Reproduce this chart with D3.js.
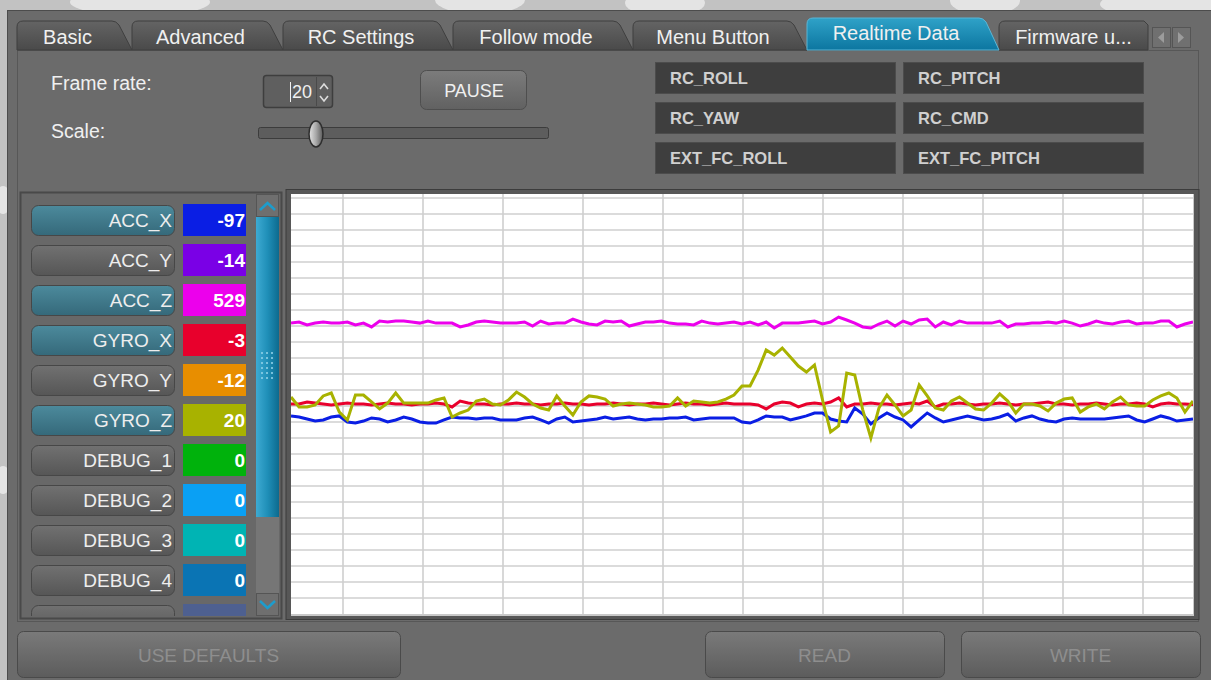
<!DOCTYPE html>
<html>
<head>
<meta charset="utf-8">
<script src="https://cdnjs.cloudflare.com/ajax/libs/d3/7.8.5/d3.min.js"></script>
<style>
  body { margin: 0; background: #c4c4c4; overflow: hidden; }
  svg { display: block; font-family: "Liberation Sans", Arial, sans-serif; }
</style>
</head>
<body>
<svg id="ui" width="1211" height="680"></svg>
<script>
// ---- data ----
var tabNames = ["Basic", "Advanced", "RC Settings", "Follow mode", "Menu Button", "Realtime Data", "Firmware u..."];
var activeTab = 5;

var rcNames = ["RC_ROLL", "RC_PITCH", "RC_YAW", "RC_CMD", "EXT_FC_ROLL", "EXT_FC_PITCH"];

var channelNames  = ["ACC_X", "ACC_Y", "ACC_Z", "GYRO_X", "GYRO_Y", "GYRO_Z", "DEBUG_1", "DEBUG_2", "DEBUG_3", "DEBUG_4", ""];
var channelValues = ["-97", "-14", "529", "-3", "-12", "20", "0", "0", "0", "0", ""];
var channelColors = ["#0a1ee4", "#7a00e6", "#ec00ec", "#e8002c", "#e88e00", "#a8b200", "#00b20c", "#0aa0f4", "#00b4b4", "#0a74b4", "#4e6090"];
var channelOn     = [true, false, true, true, false, true, false, false, false, false, false];

var frameRate = "20";
var scalePos = 0.2;   // slider knob position 0..1
var bottomButtons = ["USE DEFAULTS", "READ", "WRITE"];

// samples (one every frame), oldest on the left
var accX = [
  -77, -84, -97, -110, -103, -84, -77, -116, -123, -110,
  -90, -97, -116, -103, -84, -97, -116, -123, -123, -103,
  -84, -90, -90, -97, -90, -90, -103, -103, -103, -90,
  -84, -103, -123, -97, -84, -116, -110, -103, -97, -84,
  -97, -90, -84, -97, -103, -97, -97, -90, -90, -84,
  -103, -97, -90, -90, -90, -90, -116, -123, -103, -77,
  -84, -84, -103, -90, -77, -58, -58, -97, -110, -116,
  -26, -65, -129, -90, -58, -84, -103, -148, -103, -58,
  -90, -116, -103, -90, -77, -90, -103, -97, -84, -65,
  -110, -90, -77, -97, -110, -116, -97, -90, -97, -97,
  -97, -97, -90, -84, -77, -103, -116, -97, -77, -90,
  -110, -103, -97
];
var accZ = [
  522, 529, 510, 522, 529, 522, 522, 529, 510, 522,
  497, 535, 529, 535, 535, 529, 522, 535, 522, 522,
  522, 497, 510, 529, 535, 529, 522, 522, 522, 529,
  503, 535, 516, 522, 522, 548, 529, 516, 510, 535,
  529, 535, 503, 516, 529, 529, 535, 522, 516, 516,
  510, 535, 522, 516, 522, 529, 516, 529, 510, 529,
  490, 522, 522, 522, 529, 535, 516, 529, 561, 542,
  522, 497, 490, 516, 535, 503, 535, 516, 542, 548,
  497, 529, 510, 535, 522, 522, 522, 522, 535, 497,
  516, 516, 522, 522, 529, 522, 535, 522, 503, 516,
  535, 522, 516, 529, 535, 516, 522, 522, 535, 535,
  497, 516, 529
];
var gyroX = [
  0, 0, 13, 6, 0, -6, 0, 6, 0, 0,
  -6, 0, 6, 0, 0, -6, 0, 0, 6, 0,
  -19, 19, 6, 0, 0, -6, 0, 0, 6, 0,
  0, -6, 0, 0, 6, 0, 0, -6, 0, 0,
  6, 0, -6, 0, 0, 6, 0, -6, 0, 6,
  0, 0, -6, 0, 6, 0, 0, 0, -6, -32,
  0, 13, 6, -19, 0, 6, 0, 13, 39, -19,
  0, 0, 6, 0, 0, -6, 0, 6, 0, 19,
  -19, 0, 0, 6, 0, -6, 0, 0, 6, 0,
  -6, 0, 0, 6, 13, 0, 0, -6, 0, 0,
  6, 0, -6, 0, 0, 6, 0, -19, 0, 6,
  0, 0, -3
];
var gyroZ = [
  45, -19, -19, -6, 52, 71, -52, -103, 58, 58,
  13, -32, 6, 71, 6, 6, 6, 6, 26, 39,
  -84, -58, -39, 19, 32, 0, -6, 26, 77, 45,
  0, -26, -39, 52, -13, -71, 13, 52, 45, 32,
  -13, 0, 6, 0, -6, -19, -19, -13, 39, -13,
  19, 13, 6, 13, 32, 58, 116, 116, 219, 348,
  316, 361, 303, 245, 206, 252, 26, -181, -142, 200,
  187, -39, -219, -26, 58, -6, -77, -39, 123, 52,
  -26, -39, 19, 45, 6, -32, -39, 6, 65, 19,
  -58, 0, 0, -13, -45, 6, 32, 39, -52, -19,
  0, -32, 13, 45, -6, -13, -13, 26, 52, 71,
  39, -52, 20
];
// plotted channels, drawn in channel order
var plotted = [
  { values: accX, color: channelColors[0] },
  { values: accZ, color: channelColors[2] },
  { values: gyroX, color: channelColors[3] },
  { values: gyroZ, color: channelColors[5] }
];

// ---- drawing ----
var svg = d3.select("#ui");
var defs = svg.append("defs");

function grad(id, stops, horizontal) {
  var g = defs.append("linearGradient").attr("id", id)
    .attr("x1", 0).attr("y1", 0)
    .attr("x2", horizontal ? 1 : 0).attr("y2", horizontal ? 0 : 1);
  stops.forEach(function (s) { g.append("stop").attr("offset", s[0]).attr("stop-color", s[1]); });
}
grad("tabGrad", [[0, "#646464"], [1, "#4a4a4a"]]);
grad("tabActive", [[0, "#2fa2c8"], [1, "#0c76a0"]]);
grad("btnGrad", [[0, "#7c7c7c"], [1, "#616161"]]);
grad("chanOff", [[0, "#717171"], [1, "#565656"]]);
grad("chanOn", [[0, "#4c8a9c"], [1, "#35697a"]]);
grad("thumb", [[0, "#3eaad2"], [0.5, "#1f8fb8"], [1, "#0c6a8e"]], true);
grad("knob", [[0, "#e4e4e4"], [0.5, "#a8a8a8"], [1, "#5a5a5a"]], true);
grad("bottomBtn", [[0, "#7a7a7a"], [1, "#5c5c5c"]]);

// backdrop behind the window
svg.append("rect").attr("width", 1211).attr("height", 680).attr("fill", "#c2c2c2");
var blobs = [[140, 2, 70], [480, 0, 45], [665, 3, 40], [985, 1, 35], [1160, 4, 60], [3, 200, 8], [3, 480, 8]];
svg.selectAll(".blob").data(blobs).enter().append("ellipse")
  .attr("cx", function (d) { return d[0]; }).attr("cy", function (d) { return d[1]; })
  .attr("rx", function (d) { return d[2]; }).attr("ry", 14)
  .attr("fill", "#ececec").attr("opacity", 0.8);

// window + pane
svg.append("rect").attr("x", 7.5).attr("y", 10.5).attr("width", 1215).attr("height", 680)
  .attr("fill", "#6b6b6b").attr("stroke", "#4c4c4c");
svg.append("rect").attr("x", 17.5).attr("y", 50.5).attr("width", 1181).attr("height", 571)
  .attr("fill", "#6b6b6b").attr("stroke", "#575757");

// tabs
var tabEdges = [17, 132, 283, 453, 633, 807, 999, 1148];
var tabs = tabNames.map(function (name, i) {
  return { name: name, i: i, left: tabEdges[i], right: tabEdges[i + 1] };
});
function tabPath(t) {
  var top = t.i === activeTab ? 18 : 21;
  var L = t.left, R = t.right;
  if (t.i === tabNames.length - 1) {
    return "M" + L + ",50 L" + L + "," + (top + 6) + " Q" + L + "," + top + " " + (L + 6) + "," + top +
      " L" + (R - 4) + "," + top + " L" + R + "," + (top + 4) + " L" + R + ",50 Z";
  }
  return "M" + L + ",50 L" + L + "," + (top + 6) + " Q" + L + "," + top + " " + (L + 6) + "," + top +
    " L" + (R - 20) + "," + top + " Q" + (R - 16) + "," + top + " " + (R - 13) + "," + (top + 4) +
    " L" + R + ",50 Z";
}
var order = tabs.filter(function (t) { return t.i !== activeTab; }).concat([tabs[activeTab]]);
var tg = svg.append("g");
tg.selectAll("path").data(order).enter().append("path")
  .attr("d", tabPath)
  .attr("fill", function (t) { return t.i === activeTab ? "url(#tabActive)" : "url(#tabGrad)"; })
  .attr("stroke", function (t) { return t.i === activeTab ? "#5bb6d6" : "#3f3f3f"; })
  .attr("stroke-width", 1);
tg.selectAll("text").data(order).enter().append("text")
  .attr("x", function (t) { return t.i === tabNames.length - 1 ? (t.left + t.right) / 2 : (t.left + t.right - 14) / 2; })
  .attr("y", function (t) { return t.i === activeTab ? 40 : 44; })
  .attr("text-anchor", "middle").attr("font-size", 20)
  .attr("fill", "#f0f0f0")
  .text(function (t) { return t.name; });

// tab scroll arrows
var arrows = [{ x: 1152, dir: -1 }, { x: 1172, dir: 1 }];
var ag = svg.append("g").selectAll("g").data(arrows).enter().append("g");
ag.append("rect").attr("x", function (d) { return d.x + 0.5; }).attr("y", 27.5)
  .attr("width", 18).attr("height", 20).attr("fill", "#707070").attr("stroke", "#555");
ag.append("path").attr("d", function (d) {
  var cx = d.x + 9;
  return d.dir < 0 ? "M" + (cx + 3) + ",32 L" + (cx - 3) + ",37.5 L" + (cx + 3) + ",43 Z"
                   : "M" + (cx - 3) + ",32 L" + (cx + 3) + ",37.5 L" + (cx - 3) + ",43 Z";
}).attr("fill", "#9c9c9c");

// controls: frame rate, pause, scale
svg.append("text").attr("x", 51).attr("y", 90).attr("font-size", 19.5).attr("fill", "#f0f0f0").text("Frame rate:");
svg.append("text").attr("x", 51).attr("y", 138).attr("font-size", 19.5).attr("fill", "#f0f0f0").text("Scale:");

svg.append("rect").attr("x", 263.5).attr("y", 75.5).attr("width", 69).attr("height", 32).attr("rx", 3)
  .attr("fill", "#5f5f5f").attr("stroke", "#3e3e3e").attr("stroke-width", 1.5);
svg.append("line").attr("x1", 316.5).attr("x2", 316.5).attr("y1", 77).attr("y2", 106).attr("stroke", "#4a4a4a");
svg.append("text").attr("x", 312).attr("y", 98).attr("text-anchor", "end").attr("font-size", 18)
  .attr("fill", "#f0f0f0").text(frameRate);
svg.append("line").attr("x1", 290.5).attr("x2", 290.5).attr("y1", 82).attr("y2", 102).attr("stroke", "#f0f0f0");
svg.append("path").attr("d", "M320,89 L324,84 L328,89 M320,96 L324,101 L328,96")
  .attr("fill", "none").attr("stroke", "#dcdcdc").attr("stroke-width", 1.6);

svg.append("rect").attr("x", 420.5).attr("y", 70.5).attr("width", 106).attr("height", 39).attr("rx", 6)
  .attr("fill", "url(#btnGrad)").attr("stroke", "#4e4e4e");
svg.append("text").attr("x", 474).attr("y", 97).attr("text-anchor", "middle").attr("font-size", 18)
  .attr("fill", "#f0f0f0").text("PAUSE");

var slider = d3.scaleLinear().domain([0, 1]).range([258, 548]);
svg.append("rect").attr("x", 258.5).attr("y", 127.5).attr("width", 290).attr("height", 11).attr("rx", 2)
  .attr("fill", "#5d5d5d").attr("stroke", "#3c3c3c");
svg.append("ellipse").attr("cx", slider(scalePos)).attr("cy", 134).attr("rx", 7).attr("ry", 13)
  .attr("fill", "url(#knob)").attr("stroke", "#2e2e2e").attr("stroke-width", 1.5);

// rc boxes
var rcG = svg.append("g").selectAll("g").data(rcNames).enter().append("g")
  .attr("transform", function (d, i) { return "translate(" + (655 + (i % 2) * 248) + "," + (62 + Math.floor(i / 2) * 40) + ")"; });
rcG.append("rect").attr("x", 0.5).attr("y", 0.5).attr("width", 240).attr("height", 31)
  .attr("fill", "#3e3e3e").attr("stroke", "#4c4c4c");
rcG.append("text").attr("x", 15).attr("y", 22).attr("font-size", 16.5).attr("font-weight", "bold")
  .attr("fill", "#d0d0d0").text(function (d) { return d; });

// left channel panel
svg.append("rect").attr("x", 20.5).attr("y", 192.5).attr("width", 261).attr("height", 426)
  .attr("fill", "#686868").attr("stroke", "#494949").attr("stroke-width", 2);
defs.append("clipPath").attr("id", "panelClip").append("rect")
  .attr("x", 22).attr("y", 194).attr("width", 258).attr("height", 422);
var panel = svg.append("g").attr("clip-path", "url(#panelClip)");
var rows = channelNames.map(function (n, i) {
  return { name: n, value: channelValues[i], color: channelColors[i], on: channelOn[i], i: i };
});
var rowG = panel.selectAll(".row").data(rows).enter().append("g")
  .attr("transform", function (d) { return "translate(0," + (205 + 40 * d.i) + ")"; });
rowG.append("rect").attr("x", 31.5).attr("y", 0.5).attr("width", 143).attr("height", 30).attr("rx", 7)
  .attr("fill", function (d) { return d.on ? "url(#chanOn)" : "url(#chanOff)"; })
  .attr("stroke", "#474747");
rowG.append("rect").attr("x", 183).attr("y", -1).attr("width", 63).attr("height", 32)
  .attr("fill", function (d) { return d.color; });
rowG.append("text").attr("x", 172).attr("y", 22).attr("text-anchor", "end").attr("font-size", 19)
  .attr("fill", "#eeeeee").text(function (d) { return d.name; });
rowG.append("text").attr("x", 245).attr("y", 22).attr("text-anchor", "end").attr("font-size", 19)
  .attr("font-weight", "bold").attr("fill", "#ffffff").text(function (d) { return d.value; });

// scrollbar
panel.append("rect").attr("x", 256).attr("y", 194).attr("width", 23).attr("height", 422).attr("fill", "#767676");
panel.append("rect").attr("x", 256.5).attr("y", 194.5).attr("width", 22).attr("height", 22)
  .attr("fill", "#6f6f6f").attr("stroke", "#555");
panel.append("path").attr("d", "M260,210 L267.5,203 L275,210").attr("fill", "none")
  .attr("stroke", "#1d9ccc").attr("stroke-width", 2.5);
panel.append("rect").attr("x", 256).attr("y", 217).attr("width", 23).attr("height", 300).attr("fill", "url(#thumb)");
var dots = [];
d3.range(6).forEach(function (r) { d3.range(3).forEach(function (c) { dots.push([c, r]); }); });
panel.selectAll(".dot").data(dots).enter().append("rect")
  .attr("x", function (d) { return 261 + d[0] * 5; }).attr("y", function (d) { return 352 + d[1] * 5; })
  .attr("width", 2).attr("height", 2).attr("fill", "#8fcfe6").attr("opacity", 0.8);
panel.append("rect").attr("x", 256.5).attr("y", 593.5).attr("width", 22).attr("height", 22)
  .attr("fill", "#6f6f6f").attr("stroke", "#555");
panel.append("path").attr("d", "M260,601 L267.5,608 L275,601").attr("fill", "none")
  .attr("stroke", "#1d9ccc").attr("stroke-width", 2.5);

// plot
var x = d3.scaleLinear().domain([0, accX.length - 1]).range([291, 1193]);
var y = d3.scaleLinear().domain([-1355, 1355]).range([614, 194]);
var gridX = d3.scaleLinear().domain([0, 10]).range([343, 1143]);
var gridY = d3.scaleLinear().domain([0, 25]).range([198, 598]);

svg.append("rect").attr("x", 286).attr("y", 189.5).attr("width", 913).attr("height", 430)
  .attr("fill", "#575757").attr("stroke", "#3c3c3c");
svg.append("rect").attr("x", 291).attr("y", 194).attr("width", 903).attr("height", 422).attr("fill", "#c9c9c9");
svg.append("rect").attr("x", 291).attr("y", 194).attr("width", 902).attr("height", 420).attr("fill", "#ffffff");

defs.append("clipPath").attr("id", "plotClip").append("rect")
  .attr("x", 291).attr("y", 194).attr("width", 902).attr("height", 420);
var plot = svg.append("g").attr("clip-path", "url(#plotClip)");

plot.selectAll(".gy").data(d3.range(26)).enter().append("line")
  .attr("x1", 291).attr("x2", 1193)
  .attr("y1", function (d) { return gridY(d); }).attr("y2", function (d) { return gridY(d); })
  .attr("stroke", "#cfcfcf").attr("stroke-width", 1.6);
plot.selectAll(".gx").data(d3.range(11)).enter().append("line")
  .attr("y1", 194).attr("y2", 614)
  .attr("x1", function (d) { return gridX(d); }).attr("x2", function (d) { return gridX(d); })
  .attr("stroke", "#cfcfcf").attr("stroke-width", 1.6);

var line = d3.line()
  .x(function (d, i) { return x(i); })
  .y(function (d) { return y(d); });
plot.selectAll(".series").data(plotted).enter().append("path")
  .attr("d", function (s) { return line(s.values); })
  .attr("fill", "none")
  .attr("stroke", function (s) { return s.color; })
  .attr("stroke-width", 3)
  .attr("stroke-linejoin", "miter");

// bottom buttons
var bb = [{ label: bottomButtons[0], x: 17, w: 383 }, { label: bottomButtons[1], x: 705, w: 239 }, { label: bottomButtons[2], x: 961, w: 239 }];
var bg = svg.append("g").selectAll("g").data(bb).enter().append("g");
bg.append("rect").attr("x", function (d) { return d.x + 0.5; }).attr("y", 631.5)
  .attr("width", function (d) { return d.w; }).attr("height", 46).attr("rx", 6)
  .attr("fill", "url(#bottomBtn)").attr("stroke", "#4a4a4a");
bg.append("text").attr("x", function (d) { return d.x + d.w / 2; }).attr("y", 662)
  .attr("text-anchor", "middle").attr("font-size", 19).attr("fill", "#8e8e8e")
  .text(function (d) { return d.label; });
</script>
</body>
</html>
